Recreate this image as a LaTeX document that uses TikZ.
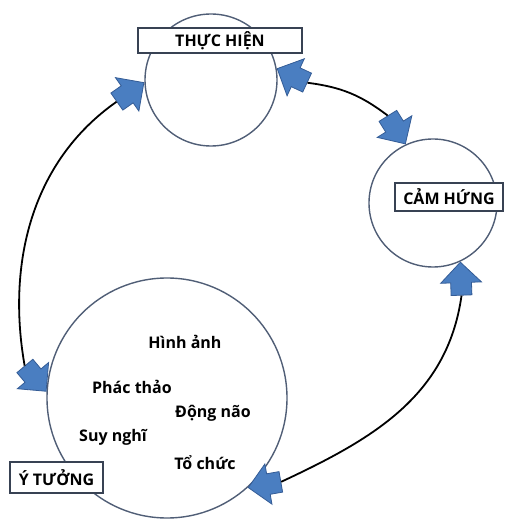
\documentclass[tikz,border=0pt]{standalone}
\usepackage{fontspec}
\setmainfont{Open Sans}
\usetikzlibrary{shapes.arrows}
\definecolor{arrowblue}{RGB}{74,126,193}
\definecolor{arrowedge}{RGB}{52,92,150}
\definecolor{ringgray}{RGB}{80,94,118}

\begin{document}
\begin{tikzpicture}[x=1pt,y=1pt,
		ring/.style={circle,draw=ringgray,line width=1.4pt,inner sep=0pt},
		tag/.style={rectangle,draw=ringgray!70!black,line width=1.2pt,fill=white,inner sep=0pt,
			font=\bfseries\fontsize{16}{18}\selectfont},
		word/.style={font=\bfseries\fontsize{16}{18}\selectfont},
		blockarrow/.style={single arrow,fill=arrowblue,draw=arrowedge,line width=0.8pt,
			minimum height=33pt,minimum width=40pt,single arrow head extend=10pt,
			inner sep=10pt,anchor=tip},
		link/.style={line width=1.8pt,black}]
	\useasboundingbox (0,0) rectangle (517,520);

	% the three stages
	\node[ring,minimum size=132pt] (thuchien) at (211,440) {};
	\node[ring,minimum size=128pt] (camhung) at (433,317) {};
	\node[ring,minimum size=240pt] (ytuong) at (167,122) {};

	\node[tag,minimum width=164pt,minimum height=25pt] (tagthuchien) at (220,479.5) {THỰC HIỆN};
	\node[tag,minimum width=108pt,minimum height=28pt] (tagcamhung) at (449,323) {CẢM HỨNG};
	\node[tag,minimum width=93pt,minimum height=31pt] (tagytuong) at (56.5,42.5) {Ý TƯỞNG};

	% ideas inside the big circle
	\node[word] (hinhanh) at (185,178) {Hình ảnh};
	\node[word] (phacthao) at (132,133) {Phác thảo};
	\node[word] (dongnao) at (213,107) {Động não};
	\node[word] (suynghi) at (113,83) {Suy nghĩ};
	\node[word] (tochuc) at (205,57) {Tổ chức};

	% block arrows
	\node[blockarrow,rotate=35] (a1) at (thuchien.182) {};
	\node[blockarrow,rotate=-50] (a2) at (ytuong.177) {};
	\node[blockarrow,rotate=155] (a3) at (thuchien.10) {};
	\node[blockarrow,rotate=-58] (a4) at (camhung.115) {};
	\node[blockarrow,rotate=92] (a5) at (camhung.-65) {};
	\node[blockarrow,rotate=190] (a6) at (ytuong.-48) {};

	% connectors
	\draw[link] (a1.tail) to[out=215,in=100,looseness=0.95] (a2.tail);
	\draw[link] (a3.tail) to[bend left=15] (a4.tail);
	\draw[link] (a5.tail) to[out=-98,in=25] (a6.tail);
\end{tikzpicture}
\end{document}
